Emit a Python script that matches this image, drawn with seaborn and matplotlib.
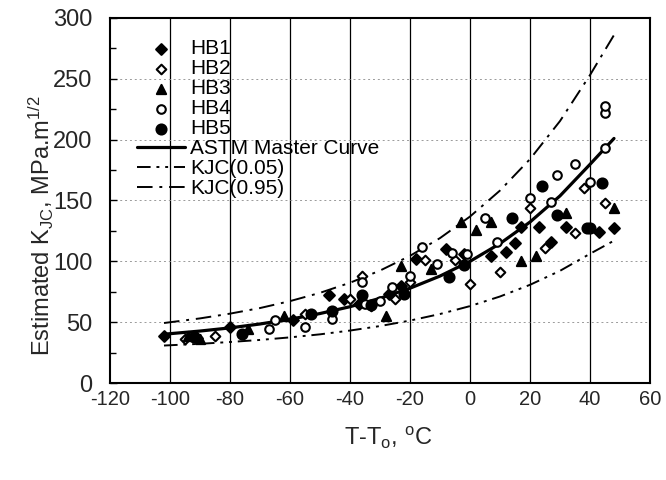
import matplotlib
matplotlib.use("Agg")
import matplotlib.pyplot as plt
import seaborn as sns
import pandas as pd
from matplotlib.ticker import MultipleLocator

# ---------------- data ----------------
hb1_t = [-102, -91, -80, -59, -47, -42, -37, -27, -23, -18, -8, -2, 7, 12, 15, 17, 23, 27, 32, 43, 48]
hb1_k = [39, 37, 46, 52, 72, 69, 65, 73, 80, 102, 110, 106, 104, 108, 115, 128, 128, 116, 128, 124, 127]

hb2_t = [-95, -85, -55, -40, -36, -33, -25, -20, -15, -5, 0, 10, 20, 25, 35, 38, 45]
hb2_k = [36, 39, 57, 69, 88, 63, 69, 83, 101, 101, 81, 91, 144, 111, 123, 160, 148]

hb3_t = [-94, -90, -74, -62, -28, -23, -13, -3, 2, 7, 17, 22, 32, 48]
hb3_k = [39, 36, 44, 55, 55, 96, 94, 132, 126, 132, 100, 104, 140, 144]

hb4_t = [-67, -65, -55, -46, -36, -35, -30, -26, -20, -16, -11, -6, -1, 5, 9, 20, 27, 29, 35, 40, 45, 45, 45]
hb4_k = [44, 52, 46, 53, 83, 65, 67, 79, 88, 112, 98, 107, 106, 136, 116, 152, 149, 171, 180, 165, 193, 222, 228]

hb5_t = [-92, -76, -53, -46, -36, -33, -22, -7, -2, 14, 24, 29, 39, 40, 44]
hb5_k = [38, 40, 57, 59, 72, 64, 73, 87, 97, 136, 162, 138, 127, 127, 164]

curve_t = [-102, -90, -80, -70, -60, -50, -40, -30, -20, -10, 0, 10, 20, 30, 40, 48]
master_k = [40.1, 42.7, 45.3, 48.5, 52.4, 57.1, 62.7, 69.6, 77.9, 87.9, 100, 114.6, 132.3, 153.8, 179.7, 201]
kjc05_k = [30.8, 32.2, 33.7, 35.4, 37.5, 40.0, 43.1, 46.8, 51.3, 56.7, 63.2, 71.1, 80.7, 92.2, 106.2, 117]
kjc95_k = [49.3, 53.1, 57.0, 61.6, 67.3, 74.1, 82.4, 92.4, 104.5, 119.1, 136.8, 158.2, 184.0, 215.3, 253.1, 286]

x_ticks = [-120, -100, -80, -60, -40, -20, 0, 20, 40, 60]
y_ticks = [0, 50, 100, 150, 200, 250, 300]

# ---------------- style ----------------
sns.set_theme(style="white")
plt.rcParams["font.family"] = ["Liberation Sans", "DejaVu Sans"]
plt.rcParams["mathtext.default"] = "regular"

fig = plt.figure(figsize=(6.66, 4.80), dpi=100)
# axes: left 110px, right 650px, top 18px, bottom 383px
ax = fig.add_axes([110 / 666, 1 - 383 / 480, 540 / 666, 365 / 480])

# vertical grid lines (solid) and faint horizontal ones
for xv in x_ticks[1:-1]:
    ax.axvline(xv, color="black", lw=0.9, zorder=0)
for yv in y_ticks[1:-1]:
    ax.axhline(yv, color="#9a9a9a", lw=0.7, ls=(0, (2, 3)), zorder=0)

series = [
    ("HB1", hb1_t, hb1_k, "D", "black", 30),
    ("HB2", hb2_t, hb2_k, "D", "white", 24),
    ("HB3", hb3_t, hb3_k, "^", "black", 44),
    ("HB4", hb4_t, hb4_k, "o", "white", 38),
    ("HB5", hb5_t, hb5_k, "o", "black", 52),
]
for name, t, k, m, fc, s in series:
    df = pd.DataFrame({"T": t, "K": k})
    sns.scatterplot(data=df, x="T", y="K", ax=ax, marker=m, s=s,
                    facecolor=fc, edgecolor="black", linewidth=1.5,
                    label=name, zorder=3)

cdf = pd.DataFrame({"T": curve_t, "M": master_k, "L": kjc05_k, "U": kjc95_k})
sns.lineplot(data=cdf, x="T", y="M", ax=ax, color="black", lw=2.3,
             label="ASTM Master Curve", zorder=2)
sns.lineplot(data=cdf, x="T", y="L", ax=ax, color="black", lw=1.4,
             ls=(0, (7, 3, 1.5, 3, 1.5, 3)), label="KJC(0.05)", zorder=2)
sns.lineplot(data=cdf, x="T", y="U", ax=ax, color="black", lw=1.4,
             ls=(0, (8, 3.5, 1.5, 3.5)), label="KJC(0.95)", zorder=2)

ax.set_xlim(-120, 60)
ax.set_ylim(0, 300)
ax.set_xticks(x_ticks)
ax.set_yticks(y_ticks)
ax.yaxis.set_minor_locator(MultipleLocator(25))
ax.set_xticklabels([str(v) for v in x_ticks], fontsize=14.5)
ax.set_yticklabels([str(v) for v in y_ticks], fontsize=17)
ax.tick_params(axis="y", which="both", direction="in", color="black",
               length=5, width=1.0, pad=12.5, left=True)
ax.tick_params(axis="y", which="minor", length=4)
ax.tick_params(axis="x", bottom=True, length=0, pad=5)

for sp in ax.spines.values():
    sp.set_color("black")
    sp.set_linewidth(1.5)

ax.set_xlabel("T-T$_o$, $^o$C", fontsize=17)
ax.set_ylabel("Estimated K$_{JC}$, MPa.m$^{1/2}$", fontsize=17)
ax.xaxis.set_label_coords(0.515, -0.115)
ax.yaxis.set_label_coords(-0.1, 0.43)

leg = ax.legend(loc="upper left", bbox_to_anchor=(0.035, 0.965), frameon=False,
                fontsize=15, handlelength=2.3, handletextpad=0.25,
                labelspacing=0.05, borderaxespad=0.0)
for txt in leg.get_texts():
    txt.set_color("black")

fig.savefig("out.png", dpi=100, facecolor="white")
